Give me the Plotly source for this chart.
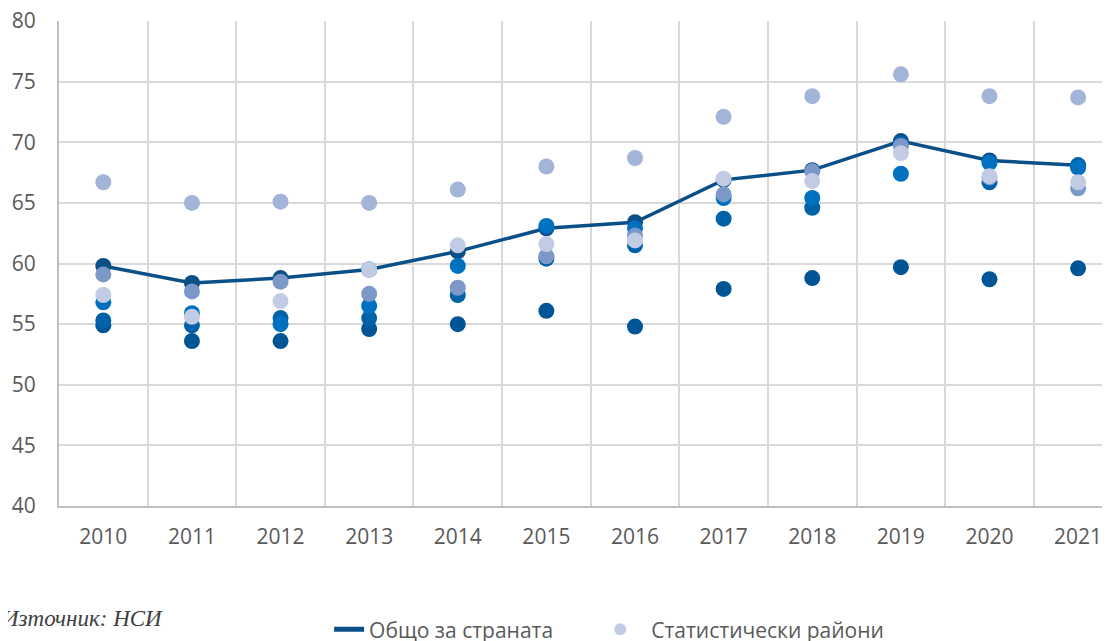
import plotly.graph_objects as go

years = ["2010", "2011", "2012", "2013", "2014", "2015", "2016", "2017", "2018", "2019", "2020", "2021"]

national = [59.8, 58.4, 58.8, 59.5, 61.0, 62.9, 63.4, 66.9, 67.7, 70.1, 68.5, 68.1]

region_dark = [54.9, 53.6, 53.6, 54.6, 55.0, 56.1, 54.8, 57.9, 58.8, 59.7, 58.7, 59.6]
region_blue2 = [55.3, 54.9, 55.5, 55.5, 57.4, 60.4, 61.5, 63.7, 64.6, 69.9, 66.7, 68.1]
region_blue = [56.8, 55.9, 55.0, 56.5, 59.8, 63.1, 62.9, 65.4, 65.4, 67.4, 68.3, 67.9]
region_steel = [59.1, 57.7, 58.5, 57.5, 58.0, 60.6, 62.3, 65.7, 67.6, 69.7, 67.1, 66.2]
region_lavender = [66.7, 65.0, 65.1, 65.0, 66.1, 68.0, 68.7, 72.1, 73.8, 75.6, 73.8, 73.7]
region_light = [57.4, 55.6, 56.9, 59.5, 61.5, 61.6, 61.9, 67.0, 66.8, 69.1, 67.2, 66.7]

NAT_COLOR = "#0b4f88"
regions = [
    (region_dark, "#005596"),
    (region_blue2, "#0062a8"),
    (region_blue, "#0070c0"),
    (region_steel, "#7b98c9"),
    (region_lavender, "#a2b4d8"),
    (region_light, "#c1cce4"),
]

fig = go.Figure()

# national line (legend entry: line only)
fig.add_trace(go.Scatter(
    x=years, y=national, mode="lines",
    name="Общо за страната",
    line=dict(color=NAT_COLOR, width=3.5),
    showlegend=True, legend="legend",
))
fig.add_trace(go.Scatter(
    x=years, y=national, mode="markers",
    name="Общо за страната",
    marker=dict(color=NAT_COLOR, size=16),
    showlegend=False,
))

for vals, col in regions:
    is_leg = (col == "#c1cce4")
    fig.add_trace(go.Scatter(
        x=years, y=vals, mode="markers",
        name="\u00a0\u00a0Статистически райони",
        marker=dict(color=col, size=16),
        showlegend=is_leg, legend="legend2",
    ))

fig.add_annotation(
    text="Източник: НСИ", xref="paper", yref="paper",
    x=-0.0571, y=-0.231, xanchor="left", yanchor="middle",
    showarrow=False,
    font=dict(family="Liberation Serif", size=23, color="#404040", style="italic"),
)

legend_common = dict(
    orientation="h", y=-0.255, xanchor="left", yanchor="middle",
    font=dict(family="Open Sans", size=21, color="#595959"),
    itemsizing="constant", bgcolor="rgba(0,0,0,0)",
)

fig.update_layout(
    width=1102, height=633,
    margin=dict(l=51, r=0, t=13, b=135, autoexpand=False),
    paper_bgcolor="white", plot_bgcolor="white",
    font=dict(family="Open Sans", size=21, color="#595959"),
    legend=dict(x=0.257, **legend_common),
    legend2=dict(x=0.515, **legend_common),
)

fig.update_xaxes(
    type="category", range=[-0.5, 11.36],
    tickson="boundaries", ticks="",
    showgrid=True, gridcolor="#d9d9d9", gridwidth=2,
    showline=True, linecolor="#bfbfbf", linewidth=2,
    tickfont=dict(family="Open Sans", size=21, color="#595959"),
    ticklabelstandoff=11, ticklabeloverflow="allow",
)
fig.update_yaxes(
    range=[40, 80], dtick=5, tick0=40,
    showgrid=True, gridcolor="#d9d9d9", gridwidth=2,
    showline=True, linecolor="#bfbfbf", linewidth=2,
    zeroline=False,
    tickfont=dict(family="Open Sans", size=21, color="#595959"),
    ticks="", ticklabelstandoff=17, ticklabeloverflow="allow",
)

fig.write_html("out.html")
